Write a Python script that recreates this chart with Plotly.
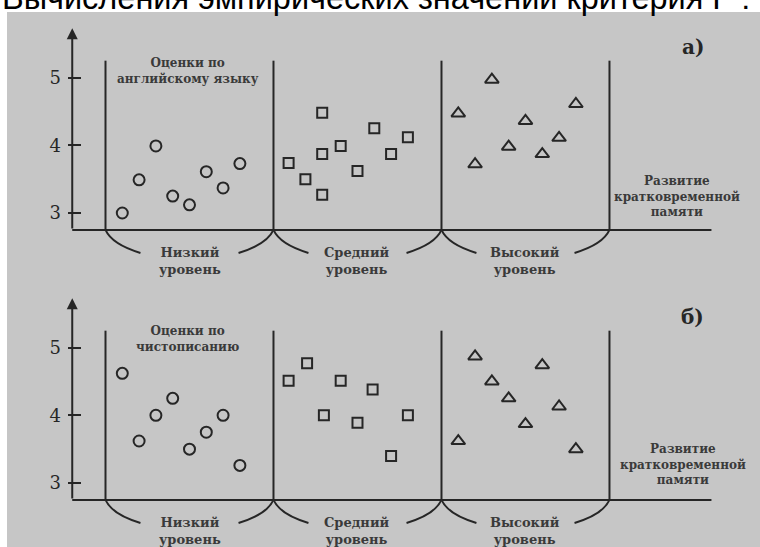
import plotly.graph_objects as go

# оценки (ось Y) и положение точек внутри групп (ось X, 0..3 = границы групп)
x_low = [0.10, 0.20, 0.30, 0.40, 0.50, 0.60, 0.70, 0.80]
x_mid_a = [1.09, 1.19, 1.29, 1.29, 1.29, 1.40, 1.50, 1.60, 1.70, 1.80]
x_mid_b = [1.09, 1.20, 1.30, 1.40, 1.50, 1.59, 1.70, 1.80]
x_high = [2.10, 2.20, 2.30, 2.40, 2.50, 2.60, 2.70, 2.80]

english_low = [3.0, 3.49, 3.99, 3.25, 3.12, 3.61, 3.37, 3.73]
english_mid = [3.74, 3.50, 4.48, 3.87, 3.27, 3.99, 3.62, 4.25, 3.87, 4.12]
english_high = [4.47, 3.72, 4.97, 3.98, 4.36, 3.87, 4.11, 4.61]

writing_low = [4.62, 3.62, 4.00, 4.25, 3.50, 3.75, 4.00, 3.26]
writing_mid = [4.51, 4.77, 4.00, 4.51, 3.89, 4.38, 3.40, 4.00]
writing_high = [3.62, 4.87, 4.50, 4.25, 3.87, 4.74, 4.13, 3.50]

groups = ["Низкий<br>уровень", "Средний<br>уровень", "Высокий<br>уровень"]
score_ticks = [3, 4, 5]

INK = "#262626"
TXT = "#3a3a3a"
PAPER = "#c6c6c6"
SERIF = "DejaVu Serif"

fig = go.Figure()

panels = [
    ("y", english_low, english_mid, x_mid_a, english_high, "Оценки по<br>английскому языку", "а)", 5.10, 3.40, 3.24),
    ("y2", writing_low, writing_mid, x_mid_b, writing_high, "Оценки по<br>чистописанию", "б)", 5.12, 3.44, 3.27),
]

shapes = [dict(type="rect", xref="paper", yref="paper", x0=7/760, x1=1, y0=0, y1=(547-12)/547,
               fillcolor=PAPER, line_width=0, layer="below")]
annotations = []

for yref, lo, mid, xm, hi, title, tag, ty, rx, ry in panels:
    fig.add_trace(go.Scatter(x=x_low, y=lo, mode="markers", xaxis="x", yaxis=yref,
                             marker=dict(symbol="circle-open", size=11, color=INK, line=dict(width=2, color=INK))))
    fig.add_trace(go.Scatter(x=xm, y=mid, mode="markers", xaxis="x", yaxis=yref,
                             marker=dict(symbol="square-open", size=10, color=INK, line=dict(width=2, color=INK))))
    fig.add_trace(go.Scatter(x=x_high, y=hi, mode="markers", xaxis="x", yaxis=yref,
                             marker=dict(symbol="triangle-up-open", size=12, color=INK, line=dict(width=2, color=INK))))

    # базовая линия
    shapes.append(dict(type="line", xref="x", yref=yref, x0=-0.198, x1=3.607, y0=2.75, y1=2.75,
                       line=dict(color=INK, width=2)))
    # вертикальные границы групп и скобки снизу
    for xd in [0, 1, 2, 3]:
        shapes.append(dict(type="line", xref="x", yref=yref, x0=xd, x1=xd, y0=2.75, y1=5.25,
                           line=dict(color=INK, width=2)))
        for side in [-1, 1]:
            if (xd == 0 and side == -1) or (xd == 3 and side == 1):
                continue
            path = f"M {xd},2.75 Q {xd + side*0.039},2.536 {xd + side*0.208},2.41"
            shapes.append(dict(type="path", xref="x", yref=yref, path=path,
                               line=dict(color=INK, width=2)))
    # ось Y со стрелкой
    annotations.append(dict(xref="x", yref=yref, axref="x", ayref=yref, x=-0.198, y=5.73,
                            ax=-0.198, ay=2.75, showarrow=True, arrowhead=2, arrowsize=1.1,
                            arrowwidth=2, arrowcolor=INK, text=""))
    for i, g in enumerate(groups):
        annotations.append(dict(xref="x", yref=yref, x=i + 0.5, y=2.29, text="<b>" + g + "</b>",
                                showarrow=False, font=dict(family=SERIF, size=13, color=TXT)))
    annotations.append(dict(xref="x", yref=yref, x=0.49, y=ty, text="<b>" + title + "</b>", showarrow=False,
                            font=dict(family=SERIF, size=12, color=TXT)))
    annotations.append(dict(xref="x", yref=yref, x=rx, y=ry,
                            text="<b>Развитие<br>кратковременной<br>памяти</b>",
                            showarrow=False, font=dict(family=SERIF, size=12, color=TXT)))
    annotations.append(dict(xref="x", yref=yref, x=3.497, y=5.45, text="<b>" + tag + "</b>", showarrow=False,
                            font=dict(family=SERIF, size=20, color=INK)))

annotations.append(dict(xref="paper", yref="paper", x=0, y=1 - 18/547, xanchor="left", yanchor="bottom",
                        text="Вычисления эмпирических значений критерия F :", showarrow=False,
                        font=dict(family="Liberation Sans", size=32.5, color="black")))

yaxis_common = dict(range=[2.0546, 6.1462], anchor="free", position=67/760, side="left",
                    tickvals=score_ticks, ticktext=[str(t) for t in score_ticks],
                    ticks="inside", ticklen=13, tickwidth=2, tickcolor=INK,
                    ticklabelstandoff=6, showline=False, showgrid=False, zeroline=False,
                    tickfont=dict(family=SERIF, size=18, color=INK))

fig.update_layout(
    width=760, height=547, margin=dict(l=0, r=0, t=0, b=0),
    paper_bgcolor="white", plot_bgcolor="rgba(0,0,0,0)", showlegend=False,
    xaxis=dict(range=[-0.628, 3.896], domain=[0, 1], visible=False),
    yaxis=dict(domain=[1 - 277/547, 1], **yaxis_common),
    yaxis2=dict(domain=[0, 277/547], **yaxis_common),
    shapes=shapes, annotations=annotations,
)

fig.write_html("out.html", config={"displayModeBar": False},
               post_script="document.body.style.margin='0';")
